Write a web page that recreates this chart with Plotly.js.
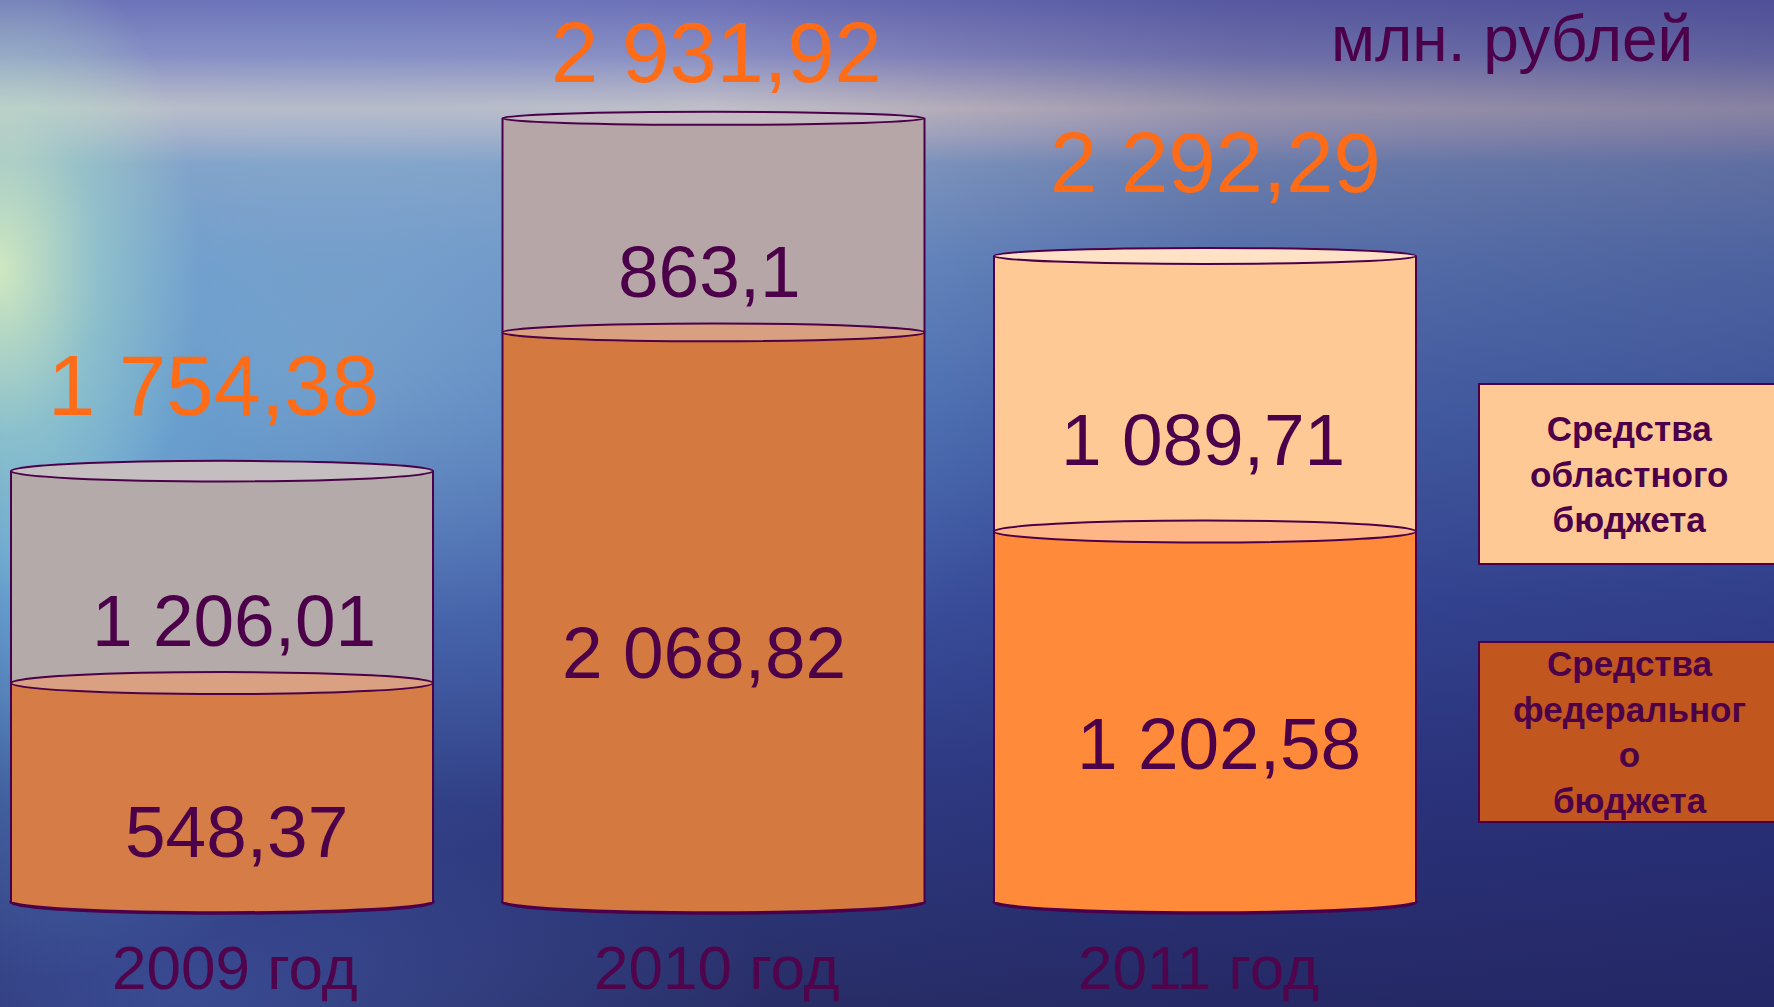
<!DOCTYPE html>
<html><head><meta charset="utf-8">
<script src="https://cdn.plot.ly/plotly-3.0.1.min.js"></script>
<style>
html,body{margin:0;padding:0;width:1774px;height:1007px;overflow:hidden;}
body{
 background:
  radial-gradient(ellipse 200px 330px at 0px 270px, rgba(225,245,190,0.85), rgba(180,230,200,0.45) 50%, rgba(140,210,220,0) 100%),
  radial-gradient(ellipse 380px 420px at 40px 560px, rgba(130,210,235,0.6), rgba(110,185,225,0.3) 55%, rgba(100,170,220,0) 100%),
  radial-gradient(ellipse 700px 480px at 330px 380px, rgba(150,200,220,0.45), rgba(110,170,215,0.2) 55%, rgba(100,160,210,0) 100%),
  radial-gradient(ellipse 600px 220px at 180px 1000px, rgba(80,110,200,0.45), rgba(70,100,190,0) 100%),
  linear-gradient(to right, rgba(20,20,90,0) 0%, rgba(20,20,90,0) 40%, rgba(30,28,100,0.28) 70%, rgba(30,28,100,0.38) 100%),
  linear-gradient(to bottom, #6c6fb6 0px, #8a8cc2 55px, #c9c1c6 108px, #b0b2c8 135px, #86a0c6 165px, #6a8ec4 260px, #5074b8 420px, #3c52a0 610px, #2f3c84 790px, #282e66 1007px);
}
#chart{width:1774px;height:1007px;}
</style></head><body><div id="chart"></div>
<script>
// ---- data ----
const years = ['2009 год', '2010 год', '2011 год'];
// heights of the drawn cylinder segments (same units as the labels)
const federalHeights = [816, 2123, 1381];
const regionalHeights = [790, 798, 1027];
// printed value labels
const federalLabels = ['548,37', '2 068,82', '1 202,58'];
const regionalLabels = ['1 206,01', '863,1', '1 089,71'];
const totalLabels = ['1 754,38', '2 931,92', '2 292,29'];
const seriesNames = ['Средства федерального бюджета', 'Средства областного бюджета'];
const legendTexts = ['Средства<br>областного<br>бюджета', 'Средства<br>федеральног<br>о<br>бюджета'];
const unitLabel = 'млн. рублей';

// ---- style ----
const W = 1774, H = 1007;
const basePx = 902, k = 0.2683;
const barWidth = 0.8586;
const ink = '#4b0049';
const font = 'Liberation Sans, Arial, sans-serif';
const fedColors = ['#d67d47', '#d4793f', '#ff8a3a'];
const regColors = ['#b3aaa9', '#b6a6a7', '#ffc995'];
const divColors = ['#d9a181', '#d8a080', '#ffb686'];
const topColors = ['#c4bec0', '#c4bac2', '#ffe2c6'];
const legendColors = ['#ffc995', '#c2561f'];
const fedLabelShift = [[14, -39], [-10, -35], [14, -27]];
const regLabelShift = [[12, -43], [-4, -46], [-2, -46]];
const totalShift = [[-9, 86], [3, 66], [10, 93]];
const yearShift = [13, 3, -7];

const px = v => basePx - k * v;
const hh = v => Math.min(11, 5.3 + 0.0106 * px(v));
const totals = federalHeights.map((f, i) => f + regionalHeights[i]);

const traces = [
  {type: 'bar', name: seriesNames[0], x: years, y: federalHeights, width: barWidth,
   marker: {color: fedColors, line: {width: 0}}, hoverinfo: 'skip'},
  {type: 'bar', name: seriesNames[1], x: years, y: regionalHeights, width: barWidth,
   marker: {color: regColors, line: {width: 0}}, hoverinfo: 'skip'}
];

const shapes = [];
const ell = (i, v, fill, lw, layer) => ({
  type: 'circle', layer: layer, xref: 'x', yref: 'y',
  x0: i - barWidth / 2, x1: i + barWidth / 2,
  ysizemode: 'pixel', yanchor: v, y0: -hh(v), y1: hh(v),
  fillcolor: fill, line: {color: ink, width: lw}
});
years.forEach((y, i) => {
  shapes.push(ell(i, 0, fedColors[i], 3.5, 'below'));
  [-1, 1].forEach(s => shapes.push({
    type: 'line', layer: 'above', xref: 'x', yref: 'y',
    x0: i + s * barWidth / 2, x1: i + s * barWidth / 2, y0: 0, y1: totals[i],
    line: {color: ink, width: 2}
  }));
  shapes.push(ell(i, federalHeights[i], divColors[i], 2, 'above'));
  shapes.push(ell(i, totals[i], topColors[i], 2, 'above'));
});
// legend boxes
const boxes = [[384, 564], [642, 822]];
boxes.forEach((b, j) => shapes.push({
  type: 'rect', xref: 'paper', yref: 'paper', layer: 'above',
  x0: 1479 / W, x1: 1.02, y0: 1 - b[1] / H, y1: 1 - b[0] / H,
  fillcolor: legendColors[j], line: {color: ink, width: 2}
}));

const annotations = [];
const ann = o => annotations.push(Object.assign({showarrow: false, xanchor: 'center', yanchor: 'middle'}, o));
years.forEach((y, i) => {
  ann({xref: 'x', yref: 'y', x: i, y: federalHeights[i] / 2, xshift: fedLabelShift[i][0], yshift: fedLabelShift[i][1],
       text: federalLabels[i], font: {family: font, size: 73, color: ink}});
  ann({xref: 'x', yref: 'y', x: i, y: federalHeights[i] + regionalHeights[i] / 2, xshift: regLabelShift[i][0], yshift: regLabelShift[i][1],
       text: regionalLabels[i], font: {family: font, size: 73, color: ink}});
  ann({xref: 'x', yref: 'y', x: i, y: totals[i], xshift: totalShift[i][0], yshift: totalShift[i][1],
       text: totalLabels[i], font: {family: font, size: 85, color: '#ff6c17'}});
  ann({xref: 'x', yref: 'y', x: i, y: 0, xshift: yearShift[i], yshift: -65,
       text: y, font: {family: font, size: 62, color: '#50044c'}});
});
legendTexts.forEach((t, j) => ann({
  xref: 'paper', yref: 'paper', x: 1629 / W, y: 1 - (boxes[j][0] + boxes[j][1]) / 2 / H,
  text: '<b>' + t + '</b>', font: {family: font, size: 35, color: ink}
}));
ann({xref: 'paper', yref: 'paper', x: 1512 / W, y: 1 - 39 / H, text: unitLabel,
     font: {family: font, size: 64, color: ink}});

const layout = {
  width: W, height: H, margin: {l: 0, r: 0, t: 0, b: 0, pad: 0},
  paper_bgcolor: 'rgba(0,0,0,0)', plot_bgcolor: 'rgba(0,0,0,0)',
  barmode: 'stack', showlegend: false,
  xaxis: {visible: false, range: [-0.4517, 3.1577], fixedrange: true},
  yaxis: {visible: false, range: [-(H - basePx) / k, basePx / k], fixedrange: true},
  shapes: shapes, annotations: annotations
};
Plotly.newPlot('chart', traces, layout, {staticPlot: true, displayModeBar: false});
</script></body></html>
